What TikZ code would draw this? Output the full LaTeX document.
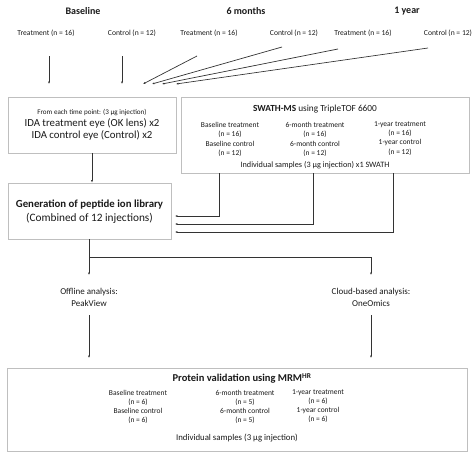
\documentclass[tikz,border=0pt]{standalone}
\usepackage{fontspec}
\setmainfont{Carlito}
\usetikzlibrary{arrows.meta}
\definecolor{boxgray}{HTML}{BFBFBF}
\definecolor{linegray}{HTML}{333333}
\definecolor{txt}{HTML}{1A1A1A}
\begin{document}
\begin{tikzpicture}[x=1pt,y=-1pt,
  every node/.style={text=txt, inner sep=0pt, align=center},
  hdr/.style={font=\fontsize{10}{11}\selectfont\bfseries},
  grp/.style={font=\fontsize{7.6}{8}\selectfont},
  small/.style={font=\fontsize{7.5}{9.2}\selectfont},
  mid/.style={font=\fontsize{8.2}{9}\selectfont},
  big/.style={font=\fontsize{10.8}{12}\selectfont},
  frame/.style={draw=boxgray, line width=0.8pt, fill=white},
  conn/.style={draw=linegray, line width=0.7pt},
  arr/.style={conn, -{Latex[length=2.4pt,width=2pt]}}
]
\useasboundingbox (0,0) rectangle (474,455);
% headers
\node[hdr] (hb) at (83,11) {Baseline};
\node[hdr] (h6) at (246,11) {6 months};
\node[hdr] (h1) at (407,11) {1 year};
% groups
\node[grp] (g1) at (46,33) {Treatment (n = 16)};
\node[grp] (g2) at (132,33) {Control (n = 12)};
\node[grp] (g3) at (209,33) {Treatment (n = 16)};
\node[grp] (g4) at (294,33) {Control (n = 12)};
\node[grp] (g5) at (363,33) {Treatment (n = 16)};
\node[grp] (g6) at (448,33) {Control (n = 12)};
% start/end coordinates of arrows
\coordinate (s1) at (49,56);   \coordinate (e1) at (49,84);
\coordinate (s2) at (122,56);  \coordinate (e2) at (122,84);
\coordinate (s3) at (197,56);  \coordinate (e3) at (143,84);
\coordinate (s4) at (282,47);  \coordinate (e4) at (152,84);
\coordinate (s5) at (338,49);  \coordinate (e5) at (162,84);
\coordinate (s6) at (428,48);  \coordinate (e6) at (176,84);
\draw[arr] (s1) -- (e1);
\draw[arr] (s2) -- (e2);
\draw[arr] (s3) -- (e3);
\draw[arr] (s4) -- (e4);
\draw[arr] (s5) -- (e5);
\draw[arr] (s6) -- (e6);
% IDA box
\node[frame, minimum width=168pt, minimum height=56pt] (ida) at (92,125) {};
\node[font=\fontsize{7.1}{8}\selectfont] (idat) at (92,113) {From each time point: (3 µg injection)};
\node[big] (ida1) at (92,123.5) {IDA treatment eye (OK lens) x2};
\node[big] (ida2) at (92,135.5) {IDA control eye (Control) x2};
% SWATH box
\node[frame, minimum width=288pt, minimum height=76pt] (sw) at (325,135) {};
\node[font=\fontsize{9.3}{11}\selectfont] (swt) at (315,109.5) {\textbf{SWATH-MS} using TripleTOF 6600};
\node[small] (sw1) at (230,139.5) {Baseline treatment\\(n = 16)\\Baseline control\\(n = 12)};
\node[small] (sw2) at (315,139.5) {6-month treatment\\(n = 16)\\6-month control\\(n = 12)};
\node[small] (sw3) at (400,138.5) {1-year treatment\\(n = 16)\\1-year control\\(n = 12)};
\node[mid] (swb) at (315,165) {Individual samples (3 µg injection) x1 SWATH};
% library box
\node[frame, minimum width=163pt, minimum height=56pt] (lib) at (89.5,211) {};
\node[big] (lib1) at (89.5,205) {\textbf{Generation of peptide ion library}};
\node[font=\fontsize{11.3}{12}\selectfont] (lib2) at (89.5,218.5) {(Combined of 12 injections)};
\coordinate (la) at (175,216);
\coordinate (lb) at (175,224);
\coordinate (lc) at (175,232);
\draw[arr] (ida.south -| ida1) -- (lib.north -| ida1);
\draw[arr] (219,173) |- (la);
\draw[arr] (313,173) |- (lb);
\draw[arr] (393,173) |- (lc);
% analysis
\node[font=\fontsize{9}{11.5}\selectfont] (off) at (89,297.5) {Offline analysis:\\PeakView};
\node[font=\fontsize{9}{11.5}\selectfont] (cloud) at (371,297.5) {Cloud-based analysis:\\OneOmics};
\coordinate (br) at (89,257);
\draw[arr] (lib.south -| off) -- (89,275);
\draw[arr] (br) -| (371,275);
% MRM box
\node[frame, minimum width=460pt, minimum height=83pt] (mrm) at (237,409.5) {};
\draw[arr] (89,315) -- (89,358);
\draw[arr] (371,315) -- (371,358);
\node[font=\fontsize{10.5}{12}\selectfont] (mrmt) at (242,378.5) {\textbf{Protein validation using MRM\textsuperscript{HR}}};
\node[small] (m1) at (138,407) {Baseline treatment\\(n = 6)\\Baseline control\\(n = 6)};
\node[small] (m2) at (245,407) {6-month treatment\\(n = 5)\\6-month control\\(n = 5)};
\node[small] (m3) at (318,406) {1-year treatment\\(n = 6)\\1-year control\\(n = 6)};
\node[font=\fontsize{8.8}{9}\selectfont] (mb) at (237,438) {Individual samples (3 µg injection)};
\end{tikzpicture}
\end{document}
